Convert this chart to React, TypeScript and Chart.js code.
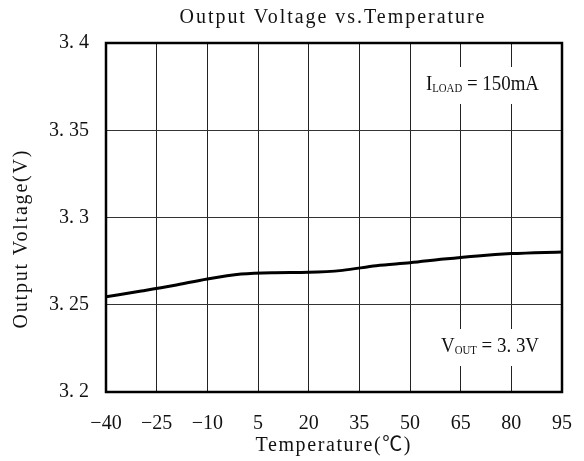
import React, { useEffect, useRef } from 'react';
import { Chart, registerables } from 'chart.js';

Chart.register(...registerables);

const temperatures = [-40, -30, -20, -10, 0, 10, 20, 30, 40, 50, 60, 70, 80, 90, 95];
const outputVoltage = [3.2546, 3.2577, 3.261, 3.2648, 3.2676, 3.2684, 3.2686, 3.2697, 3.2724, 3.2741, 3.2762, 3.278, 3.2793, 3.28, 3.2802];
const xTicks = [-40, -25, -10, 5, 20, 35, 50, 65, 80, 95];
const yTicks = [3.2, 3.25, 3.3, 3.35, 3.4];
const titleText = 'Output Voltage vs.Temperature';
const xTitle = 'Temperature(℃)';
const yTitle = 'Output Voltage(V)';
const annotations = [
  { main: 'I', sub: 'LOAD', rest: ' = 150mA', corner: 'top' },
  { main: 'V', sub: 'OUT', rest: ' = 3.3V', corner: 'bottom' },
];

const SERIF = '"Liberation Serif", "Noto Sans CJK SC", "DejaVu Serif", serif';

const cell = (s: string) => s.replace('.', '. ');
const fmtX = (v: number) => (v < 0 ? '\u2212' + Math.abs(v) : String(v));
const fmtY = (v: number) => cell(v.toFixed(2).replace(/0$/, ''));

function drawSpaced(ctx: any, text: string, cx: number, cy: number, target: number) {
  ctx.save();
  ctx.letterSpacing = '0px';
  const natural = ctx.measureText(text).width;
  const n = Array.from(text).length;
  const ls = Math.max(0, (target - natural) / (n - 1));
  ctx.letterSpacing = ls + 'px';
  ctx.textAlign = 'left';
  ctx.textBaseline = 'middle';
  ctx.fillText(text, cx - (natural + (n - 1) * ls) / 2, cy);
  ctx.restore();
}

const decor = {
  id: 'decor',
  beforeDatasetsDraw(chart: any) {
    const { ctx, chartArea } = chart;
    const sx = 0.9;
    annotations.forEach((a) => {
      const rightX = chartArea.right - 23;
      const baseY = a.corner === 'top' ? chartArea.top + 47 : chartArea.bottom - 40;
      const rest = cell(a.rest);
      ctx.save();
      ctx.font = `21px ${SERIF}`;
      const wMain = ctx.measureText(a.main).width;
      const wRest = ctx.measureText(rest).width;
      ctx.font = `12px ${SERIF}`;
      const wSub = ctx.measureText(a.sub).width;
      const total = (wMain + wSub + wRest) * sx;
      const left = rightX - total;
      ctx.fillStyle = '#fff';
      ctx.fillRect(left - 8, baseY - 23, total + 14, 37);
      ctx.translate(rightX, baseY);
      ctx.scale(sx, 1);
      ctx.fillStyle = '#111';
      ctx.textBaseline = 'alphabetic';
      ctx.textAlign = 'right';
      ctx.font = `21px ${SERIF}`;
      ctx.fillText(rest, 0, 0);
      ctx.font = `12px ${SERIF}`;
      ctx.fillText(a.sub, -wRest, 2);
      ctx.font = `21px ${SERIF}`;
      ctx.fillText(a.main, -wRest - wSub, 0);
      ctx.restore();
    });
  },
  afterDatasetsDraw(chart: any) {
    const { ctx, chartArea } = chart;
    ctx.save();
    ctx.strokeStyle = '#000';
    ctx.lineWidth = 2.5;
    ctx.strokeRect(chartArea.left, chartArea.top, chartArea.right - chartArea.left, chartArea.bottom - chartArea.top);
    ctx.restore();
  },
  afterDraw(chart: any) {
    const { ctx, chartArea } = chart;
    const cx = (chartArea.left + chartArea.right) / 2;
    ctx.save();
    ctx.fillStyle = '#111';
    ctx.font = `20px ${SERIF}`;
    drawSpaced(ctx, titleText, cx - 2, 18, 305);
    drawSpaced(ctx, xTitle, cx - 1, chartArea.bottom + 54, 155);
    ctx.translate(21.5, (chartArea.top + chartArea.bottom) / 2 + 22);
    ctx.rotate(-Math.PI / 2);
    drawSpaced(ctx, yTitle, 0, 0, 178);
    ctx.restore();
  },
};

export default function App() {
  const ref = useRef<HTMLCanvasElement>(null);
  useEffect(() => {
    document.body.style.margin = '0';
    const canvas = ref.current!;
    const chart = new Chart(canvas, {
      type: 'line',
      data: {
        datasets: [
          {
            data: temperatures.map((t, i) => ({ x: t, y: outputVoltage[i] })),
            borderColor: '#000',
            borderWidth: 3,
            pointRadius: 0,
            tension: 0.4,
            cubicInterpolationMode: 'monotone',
            fill: false,
          },
        ],
      },
      options: {
        animation: false,
        responsive: false,
        layout: { padding: { top: 43, right: 22, left: 0, bottom: 0 } },
        plugins: { legend: { display: false }, tooltip: { enabled: false }, title: { display: false } },
        scales: {
          x: {
            type: 'linear',
            min: -40,
            max: 95,
            afterBuildTicks: (s: any) => {
              s.ticks = xTicks.map((v) => ({ value: v }));
            },
            afterFit: (s: any) => {
              s.height = 69;
              s.paddingLeft = 0;
              s.paddingRight = 12;
            },
            grid: { color: '#222', lineWidth: 1, drawTicks: false },
            border: { display: false },
            ticks: {
              padding: 20,
              autoSkip: false,
              maxRotation: 0,
              color: '#111',
              font: { family: SERIF, size: 20 },
              callback: (v: any) => fmtX(Number(v)),
            },
          },
          y: {
            type: 'linear',
            min: 3.2,
            max: 3.4,
            afterBuildTicks: (s: any) => {
              s.ticks = yTicks.map((v) => ({ value: v }));
            },
            afterFit: (s: any) => {
              s.width = 106;
            },
            grid: { color: '#333', lineWidth: 1, drawTicks: false },
            border: { display: false },
            ticks: {
              padding: 17,
              autoSkip: false,
              color: '#111',
              font: { family: SERIF, size: 20 },
              callback: (v: any) => fmtY(Number(v)),
            },
          },
        },
      },
      plugins: [decor],
    } as any);
    return () => chart.destroy();
  }, []);
  return <canvas ref={ref} width={584} height={461} style={{ display: 'block' }} />;
}
